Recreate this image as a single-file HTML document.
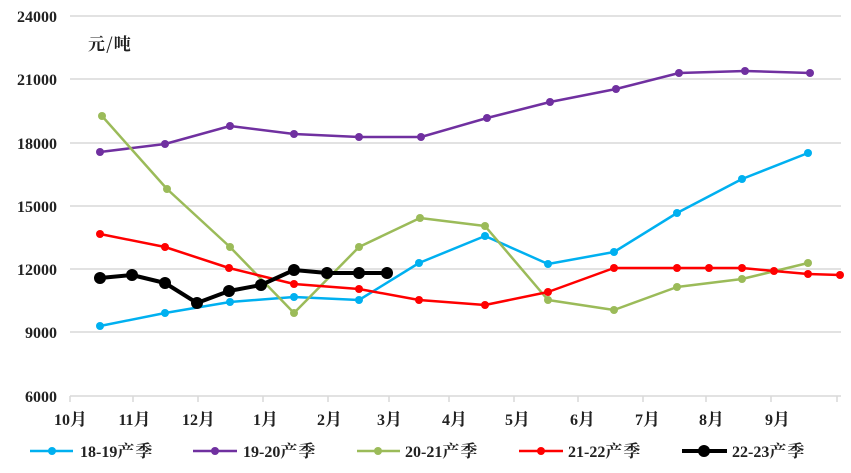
<!DOCTYPE html>
<html><head><meta charset="utf-8"><style>
html,body{margin:0;padding:0;background:#fff;}
svg{display:block;}
text{font-family:"Liberation Serif","Noto Serif CJK SC",serif;font-weight:bold;fill:#222;}
.c{font-family:"Noto Serif CJK SC",serif;font-size:17px;letter-spacing:1px;}
</style></head><body>
<svg width="851" height="473" viewBox="0 0 851 473">
<g stroke="#d9d9d9" stroke-width="1.5">
<line x1="70" y1="16" x2="841" y2="16"/><line x1="70" y1="79" x2="841" y2="79"/>
<line x1="70" y1="143" x2="841" y2="143"/><line x1="70" y1="206" x2="841" y2="206"/>
<line x1="70" y1="269" x2="841" y2="269"/><line x1="70" y1="332" x2="841" y2="332"/>
<line x1="70" y1="396" x2="841" y2="396"/>
<line x1="70" y1="396" x2="70" y2="402"/><line x1="133" y1="396" x2="133" y2="402"/>
<line x1="198" y1="396" x2="198" y2="402"/><line x1="263" y1="396" x2="263" y2="402"/>
<line x1="328" y1="396" x2="328" y2="402"/><line x1="389" y1="396" x2="389" y2="402"/>
<line x1="449" y1="396" x2="449" y2="402"/><line x1="514" y1="396" x2="514" y2="402"/>
<line x1="578" y1="396" x2="578" y2="402"/><line x1="643" y1="396" x2="643" y2="402"/>
<line x1="706" y1="396" x2="706" y2="402"/><line x1="771" y1="396" x2="771" y2="402"/>
<line x1="837" y1="396" x2="837" y2="402"/>
</g>
<g font-size="16" text-anchor="end">
<text x="57" y="22">24000</text><text x="57" y="85">21000</text><text x="57" y="149">18000</text>
<text x="57" y="212">15000</text><text x="57" y="275">12000</text><text x="57" y="338">9000</text>
<text x="57" y="402">6000</text>
</g>
<text x="88" y="50" class="c">元/吨</text>
<g font-size="16" text-anchor="middle">
<text x="71" y="425">10<tspan class="c">月</tspan></text><text x="135" y="425">11<tspan class="c">月</tspan></text><text x="199" y="425">12<tspan class="c">月</tspan></text>
<text x="266" y="425">1<tspan class="c">月</tspan></text><text x="330" y="425">2<tspan class="c">月</tspan></text><text x="390" y="425">3<tspan class="c">月</tspan></text>
<text x="455" y="425">4<tspan class="c">月</tspan></text><text x="518" y="425">5<tspan class="c">月</tspan></text><text x="583" y="425">6<tspan class="c">月</tspan></text>
<text x="648" y="425">7<tspan class="c">月</tspan></text><text x="712" y="425">8<tspan class="c">月</tspan></text><text x="778" y="425">9<tspan class="c">月</tspan></text>
</g>
<g fill="none" stroke-width="2.5" stroke-linejoin="round">
<polyline stroke="#00b0f0" points="100,326 165,313 230,302 294,297 359,300 419,263 485,236 548,264 614,252 677,213 742,179 808,153"/>
<polyline stroke="#7030a0" points="100,152 165,144 230,126 294,134 359,137 421,137 487,118 550,102 616,89 679,73 745,71 810,73"/>
<polyline stroke="#9bbb59" points="102,116 167,189 230,247 294,313 359,247 420,218 485,226 548,300 614,310 677,287 742,279 808,263"/>
<polyline stroke="#ff0000" points="100,234 165,247 229,268 294,284 359,289 419,300 485,305 548,292 614,268 677,268 709,268 742,268 774,271 808,274 840,275"/>
<polyline stroke="#000" stroke-width="4" points="100,278 132,275 165,283 197,303 229,291 261,285 294,270 327,273 359,273 387,273"/>
</g>
<g fill="#00b0f0"><circle cx="100" cy="326" r="4"/><circle cx="165" cy="313" r="4"/><circle cx="230" cy="302" r="4"/><circle cx="294" cy="297" r="4"/><circle cx="359" cy="300" r="4"/><circle cx="419" cy="263" r="4"/><circle cx="485" cy="236" r="4"/><circle cx="548" cy="264" r="4"/><circle cx="614" cy="252" r="4"/><circle cx="677" cy="213" r="4"/><circle cx="742" cy="179" r="4"/><circle cx="808" cy="153" r="4"/></g>
<g fill="#7030a0"><circle cx="100" cy="152" r="4"/><circle cx="165" cy="144" r="4"/><circle cx="230" cy="126" r="4"/><circle cx="294" cy="134" r="4"/><circle cx="359" cy="137" r="4"/><circle cx="421" cy="137" r="4"/><circle cx="487" cy="118" r="4"/><circle cx="550" cy="102" r="4"/><circle cx="616" cy="89" r="4"/><circle cx="679" cy="73" r="4"/><circle cx="745" cy="71" r="4"/><circle cx="810" cy="73" r="4"/></g>
<g fill="#9bbb59"><circle cx="102" cy="116" r="4"/><circle cx="167" cy="189" r="4"/><circle cx="230" cy="247" r="4"/><circle cx="294" cy="313" r="4"/><circle cx="359" cy="247" r="4"/><circle cx="420" cy="218" r="4"/><circle cx="485" cy="226" r="4"/><circle cx="548" cy="300" r="4"/><circle cx="614" cy="310" r="4"/><circle cx="677" cy="287" r="4"/><circle cx="742" cy="279" r="4"/><circle cx="808" cy="263" r="4"/></g>
<g fill="#ff0000"><circle cx="100" cy="234" r="4"/><circle cx="165" cy="247" r="4"/><circle cx="229" cy="268" r="4"/><circle cx="294" cy="284" r="4"/><circle cx="359" cy="289" r="4"/><circle cx="419" cy="300" r="4"/><circle cx="485" cy="305" r="4"/><circle cx="548" cy="292" r="4"/><circle cx="614" cy="268" r="4"/><circle cx="677" cy="268" r="4"/><circle cx="709" cy="268" r="4"/><circle cx="742" cy="268" r="4"/><circle cx="774" cy="271" r="4"/><circle cx="808" cy="274" r="4"/><circle cx="840" cy="275" r="4"/></g>
<g fill="#000"><circle cx="100" cy="278" r="6"/><circle cx="132" cy="275" r="6"/><circle cx="165" cy="283" r="6"/><circle cx="197" cy="303" r="6"/><circle cx="229" cy="291" r="6"/><circle cx="261" cy="285" r="6"/><circle cx="294" cy="270" r="6"/><circle cx="327" cy="273" r="6"/><circle cx="359" cy="273" r="6"/><circle cx="387" cy="273" r="6"/></g>
<g stroke-width="2.5">
<line x1="30" y1="451" x2="73" y2="451" stroke="#00b0f0"/><circle cx="52" cy="451" r="4" fill="#00b0f0"/>
<line x1="193" y1="451" x2="237" y2="451" stroke="#7030a0"/><circle cx="215" cy="451" r="4" fill="#7030a0"/>
<line x1="357" y1="451" x2="400" y2="451" stroke="#9bbb59"/><circle cx="378" cy="451" r="4" fill="#9bbb59"/>
<line x1="519" y1="451" x2="563" y2="451" stroke="#ff0000"/><circle cx="541" cy="451" r="4" fill="#ff0000"/>
<line x1="682" y1="451" x2="727" y2="451" stroke="#000" stroke-width="4"/><circle cx="704" cy="451" r="6" fill="#000"/>
</g>
<g font-size="16">
<text x="80" y="457">18-19<tspan class="c">产季</tspan></text><text x="243" y="457">19-20<tspan class="c">产季</tspan></text>
<text x="405" y="457">20-21<tspan class="c">产季</tspan></text><text x="568" y="457">21-22<tspan class="c">产季</tspan></text>
<text x="732" y="457">22-23<tspan class="c">产季</tspan></text>
</g>
</svg>
</body></html>
